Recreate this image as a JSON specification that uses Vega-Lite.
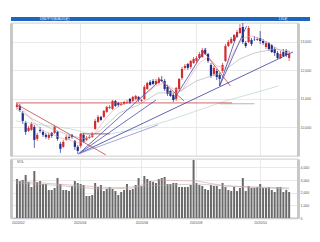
{
  "$schema": "https://vega.github.io/schema/vega-lite/v6.json",
  "padding": {"left": 10, "top": 17, "right": 0, "bottom": 0},
  "spacing": 1,
  "background": "white",
  "config": {
    "view": {"stroke": null},
    "axis": {"labelFont": "Liberation Sans", "labelFontSize": 3.5, "labelColor": "#555", "title": null},
    "text": {"font": "Noto Sans CJK JP"}
  },
  "datasets": {
    "bars": [
      {"i":0,"o":10720,"h":10860,"l":10650,"c":10790,"v":3080},
      {"i":1,"o":10755,"h":10825,"l":10545,"c":10615,"v":2920},
      {"i":2,"o":10510,"h":10580,"l":10125,"c":10230,"v":3000},
      {"i":3,"o":10160,"h":10230,"l":9740,"c":9845,"v":3400},
      {"i":4,"o":9880,"h":10055,"l":9845,"c":9985,"v":2840},
      {"i":5,"o":9915,"h":10195,"l":9880,"c":10125,"v":2450},
      {"i":6,"o":10020,"h":10090,"l":9285,"c":9565,"v":3710},
      {"i":7,"o":9600,"h":9810,"l":9530,"c":9740,"v":2840},
      {"i":8,"o":9915,"h":10020,"l":9810,"c":9880,"v":2920},
      {"i":9,"o":9845,"h":9915,"l":9670,"c":9740,"v":2685},
      {"i":10,"o":9740,"h":9810,"l":9600,"c":9670,"v":2685},
      {"i":11,"o":9635,"h":9810,"l":9565,"c":9740,"v":2210},
      {"i":12,"o":9810,"h":9845,"l":9635,"c":9705,"v":2210},
      {"i":13,"o":9810,"h":10090,"l":9775,"c":10020,"v":2370},
      {"i":14,"o":9845,"h":9880,"l":9530,"c":9600,"v":3160},
      {"i":15,"o":9425,"h":9495,"l":9110,"c":9250,"v":2685},
      {"i":16,"o":9320,"h":9565,"l":9285,"c":9495,"v":2210},
      {"i":17,"o":9565,"h":9740,"l":9530,"c":9670,"v":2210},
      {"i":18,"o":9670,"h":9740,"l":9565,"c":9635,"v":2135},
      {"i":19,"o":9740,"h":9775,"l":9600,"c":9670,"v":2530},
      {"i":20,"o":9530,"h":9565,"l":9215,"c":9320,"v":2920},
      {"i":21,"o":9320,"h":9390,"l":9075,"c":9180,"v":2765},
      {"i":22,"o":9355,"h":9810,"l":9285,"c":9775,"v":2685},
      {"i":23,"o":9740,"h":9810,"l":9460,"c":9495,"v":2605},
      {"i":24,"o":9565,"h":9705,"l":9530,"c":9635,"v":1740},
      {"i":25,"o":9635,"h":9740,"l":9600,"c":9670,"v":1740},
      {"i":26,"o":9670,"h":9845,"l":9635,"c":9775,"v":1815},
      {"i":27,"o":9950,"h":10300,"l":9915,"c":10230,"v":2765},
      {"i":28,"o":10195,"h":10440,"l":10160,"c":10370,"v":2450},
      {"i":29,"o":10370,"h":10405,"l":10230,"c":10265,"v":2605},
      {"i":30,"o":10370,"h":10615,"l":10335,"c":10580,"v":2135},
      {"i":31,"o":10545,"h":10755,"l":10510,"c":10720,"v":2290},
      {"i":32,"o":10685,"h":10790,"l":10650,"c":10720,"v":2450},
      {"i":33,"o":10650,"h":10965,"l":10615,"c":10930,"v":2290},
      {"i":34,"o":10930,"h":10965,"l":10720,"c":10755,"v":2135},
      {"i":35,"o":10860,"h":10895,"l":10720,"c":10790,"v":1815},
      {"i":36,"o":10790,"h":10895,"l":10755,"c":10825,"v":2055},
      {"i":37,"o":10825,"h":10930,"l":10790,"c":10895,"v":2210},
      {"i":38,"o":10860,"h":10965,"l":10825,"c":10895,"v":2685},
      {"i":39,"o":11000,"h":11035,"l":10825,"c":10860,"v":2210},
      {"i":40,"o":10930,"h":11105,"l":10895,"c":11070,"v":2290},
      {"i":41,"o":11000,"h":11140,"l":10965,"c":11105,"v":2605},
      {"i":42,"o":11070,"h":11105,"l":10895,"c":10965,"v":3160},
      {"i":43,"o":10930,"h":11000,"l":10895,"c":10965,"v":2530},
      {"i":44,"o":11000,"h":11490,"l":10965,"c":11420,"v":3320},
      {"i":45,"o":11350,"h":11595,"l":11315,"c":11560,"v":3080},
      {"i":46,"o":11595,"h":11665,"l":11455,"c":11490,"v":2920},
      {"i":47,"o":11630,"h":11700,"l":11490,"c":11525,"v":2840},
      {"i":48,"o":11525,"h":11700,"l":11490,"c":11630,"v":2765},
      {"i":49,"o":11560,"h":11770,"l":11525,"c":11700,"v":3080},
      {"i":50,"o":11665,"h":11805,"l":11595,"c":11630,"v":3160},
      {"i":51,"o":11630,"h":11700,"l":11280,"c":11350,"v":3240},
      {"i":52,"o":11420,"h":11490,"l":11105,"c":11175,"v":2685},
      {"i":53,"o":11280,"h":11315,"l":11070,"c":11105,"v":2685},
      {"i":54,"o":11140,"h":11210,"l":10895,"c":10965,"v":2765},
      {"i":55,"o":11000,"h":11420,"l":10930,"c":11385,"v":2765},
      {"i":56,"o":11350,"h":11735,"l":11315,"c":11700,"v":2450},
      {"i":57,"o":11735,"h":12120,"l":11665,"c":12050,"v":2450},
      {"i":58,"o":12085,"h":12225,"l":12015,"c":12155,"v":2450},
      {"i":59,"o":12225,"h":12260,"l":12015,"c":12085,"v":2450},
      {"i":60,"o":12120,"h":12365,"l":12050,"c":12330,"v":2605},
      {"i":61,"o":12260,"h":12470,"l":12225,"c":12400,"v":4580},
      {"i":62,"o":12330,"h":12505,"l":12260,"c":12435,"v":2765},
      {"i":63,"o":12435,"h":12645,"l":12400,"c":12575,"v":2605},
      {"i":64,"o":12470,"h":12785,"l":12435,"c":12715,"v":2530},
      {"i":65,"o":12715,"h":12785,"l":12540,"c":12575,"v":2290},
      {"i":66,"o":12575,"h":12610,"l":12260,"c":12330,"v":2210},
      {"i":67,"o":12190,"h":12260,"l":11735,"c":11805,"v":2605},
      {"i":68,"o":11875,"h":12155,"l":11805,"c":12085,"v":2530},
      {"i":69,"o":11980,"h":12050,"l":11665,"c":11770,"v":2530},
      {"i":70,"o":11840,"h":11910,"l":11455,"c":11700,"v":2290},
      {"i":71,"o":11980,"h":12260,"l":11910,"c":12190,"v":2765},
      {"i":72,"o":12330,"h":12925,"l":12295,"c":12855,"v":2450},
      {"i":73,"o":12855,"h":13065,"l":12820,"c":12995,"v":2210},
      {"i":74,"o":12960,"h":13170,"l":12925,"c":13100,"v":2135},
      {"i":75,"o":13030,"h":13275,"l":12995,"c":13240,"v":2450},
      {"i":76,"o":13170,"h":13415,"l":13135,"c":13345,"v":2135},
      {"i":77,"o":13310,"h":13625,"l":13275,"c":13485,"v":2370},
      {"i":78,"o":13520,"h":13660,"l":12925,"c":12995,"v":3160},
      {"i":79,"o":12960,"h":13030,"l":12785,"c":12855,"v":2135},
      {"i":80,"o":12995,"h":13555,"l":12960,"c":13485,"v":2530},
      {"i":81,"o":13065,"h":13135,"l":12855,"c":12925,"v":2370},
      {"i":82,"o":13100,"h":13205,"l":13030,"c":13090,"v":2370},
      {"i":83,"o":13065,"h":13170,"l":13030,"c":13100,"v":2450},
      {"i":84,"o":13135,"h":13380,"l":12925,"c":13030,"v":2685},
      {"i":85,"o":13030,"h":13100,"l":12890,"c":12960,"v":2370},
      {"i":86,"o":12820,"h":13030,"l":12750,"c":12960,"v":2370},
      {"i":87,"o":12960,"h":12995,"l":12680,"c":12750,"v":2450},
      {"i":88,"o":12890,"h":12925,"l":12610,"c":12645,"v":2210},
      {"i":89,"o":12750,"h":12820,"l":12505,"c":12610,"v":2055},
      {"i":90,"o":12610,"h":12680,"l":12400,"c":12435,"v":2450},
      {"i":91,"o":12435,"h":12680,"l":12400,"c":12575,"v":2450},
      {"i":92,"o":12645,"h":12750,"l":12470,"c":12505,"v":2055},
      {"i":93,"o":12680,"h":12750,"l":12470,"c":12540,"v":2210},
      {"i":94,"o":12435,"h":12680,"l":12330,"c":12575,"v":2055}
    ],
    "lines": [
      {"id":"t1","kind":"red","i":-0.33,"p":10860},{"id":"t1","kind":"red","i":74.3,"p":10860},
      {"id":"t2","kind":"gray","i":70,"p":10830},{"id":"t2","kind":"gray","i":82,"p":10830},
      {"id":"t3","kind":"red","i":22,"p":9775},{"id":"t3","kind":"red","i":32,"p":9775},
      {"id":"t4","kind":"red","i":-0.33,"p":10825},{"id":"t4","kind":"red","i":30.7,"p":9040},
      {"id":"t5","kind":"red","i":48.7,"p":11735},{"id":"t5","kind":"red","i":57.7,"p":10930},
      {"id":"t6","kind":"red","i":64.3,"p":12680},{"id":"t6","kind":"red","i":73.7,"p":11455},
      {"id":"t7","kind":"thick","i":21.3,"p":9075},{"id":"t7","kind":"thick","i":95.33,"p":12645},
      {"id":"t8","kind":"navy","i":21.3,"p":9075},{"id":"t8","kind":"navy","i":50,"p":11700},
      {"id":"t9","kind":"navy","i":21.3,"p":9075},{"id":"t9","kind":"navy","i":48,"p":10960},
      {"id":"t10","kind":"navy","i":54.3,"p":10995},{"id":"t10","kind":"navy","i":65.3,"p":12785},
      {"id":"t11","kind":"navy","i":70,"p":11455},{"id":"t11","kind":"navy","i":76,"p":13275},
      {"id":"t12","kind":"navy","i":70,"p":11455},{"id":"t12","kind":"navy","i":79.3,"p":13555},
      {"id":"t13","kind":"light","i":21.3,"p":9075},{"id":"t13","kind":"light","i":48.7,"p":10090}
    ],
    "ma": [
      {"id":"m1","i":0,"p":10790},{"id":"m1","i":3,"p":10510},{"id":"m1","i":6,"p":10160},{"id":"m1","i":9,"p":9880},
      {"id":"m1","i":12,"p":9775},{"id":"m1","i":15,"p":9635},{"id":"m1","i":18,"p":9565},{"id":"m1","i":21,"p":9460},
      {"id":"m1","i":24,"p":9530},{"id":"m1","i":27,"p":9810},{"id":"m1","i":30,"p":10230},{"id":"m1","i":33,"p":10580},
      {"id":"m1","i":36,"p":10790},{"id":"m1","i":39,"p":10895},{"id":"m1","i":42,"p":10965},{"id":"m1","i":45,"p":11210},
      {"id":"m1","i":48,"p":11455},{"id":"m1","i":51,"p":11560},{"id":"m1","i":54,"p":11350},{"id":"m1","i":57,"p":11280},
      {"id":"m1","i":60,"p":11805},{"id":"m1","i":63,"p":12260},{"id":"m1","i":66,"p":12470},{"id":"m1","i":69,"p":12155},
      {"id":"m1","i":72,"p":12085},{"id":"m1","i":75,"p":12680},{"id":"m1","i":78,"p":13135},{"id":"m1","i":81,"p":13205},
      {"id":"m1","i":84,"p":13100},{"id":"m1","i":87,"p":12960},{"id":"m1","i":90,"p":12750},{"id":"m1","i":94,"p":12575},
      {"id":"m2","i":-0.33,"p":10650},{"id":"m2","i":5.33,"p":10300},{"id":"m2","i":12,"p":9950},{"id":"m2","i":18.67,"p":9705},
      {"id":"m2","i":23.67,"p":9600},{"id":"m2","i":28.67,"p":9880},{"id":"m2","i":35.33,"p":10510},{"id":"m2","i":42,"p":10790},
      {"id":"m2","i":48.67,"p":11210},{"id":"m2","i":55.33,"p":11210},{"id":"m2","i":62,"p":11630},{"id":"m2","i":70.33,"p":11910},
      {"id":"m2","i":77,"p":12400},{"id":"m2","i":82,"p":12610},{"id":"m2","i":88.67,"p":12750},{"id":"m2","i":94,"p":12680},
      {"id":"m3","i":-0.33,"p":10230},{"id":"m3","i":8.67,"p":10090},{"id":"m3","i":18.67,"p":9950},{"id":"m3","i":25.33,"p":9775},
      {"id":"m3","i":32,"p":9775},{"id":"m3","i":42,"p":9950},{"id":"m3","i":52,"p":10230},{"id":"m3","i":62,"p":10580},
      {"id":"m3","i":72,"p":10930},{"id":"m3","i":82,"p":11210},{"id":"m3","i":90.33,"p":11455}
    ],
    "vma": [
      {"id":"v1","i":-0.33,"v":2920},{"id":"v1","i":8.67,"v":2765},{"id":"v1","i":18.67,"v":2605},{"id":"v1","i":28.67,"v":2450},
      {"id":"v1","i":38.67,"v":2290},{"id":"v1","i":48.67,"v":3000},{"id":"v1","i":62,"v":2920},{"id":"v1","i":72,"v":2530},
      {"id":"v1","i":82,"v":2450},{"id":"v1","i":94,"v":2370},
      {"id":"v2","i":-0.33,"v":2765},{"id":"v2","i":12,"v":2605},{"id":"v2","i":28.67,"v":2290},{"id":"v2","i":45.33,"v":2530},
      {"id":"v2","i":62,"v":2685},{"id":"v2","i":78.67,"v":2450},{"id":"v2","i":94,"v":2290}
    ]
  },
  "vconcat": [
    {
      "width": 299,
      "height": 4,
      "view": {"fill": "#1d66c0", "stroke": null},
      "data": {"values": [{"label": "日経平均株価(日足)", "tag": "1日足"}]},
      "layer": [
        {
          "mark": {"type": "text", "fontSize": 3.5, "color": "#e8f0ff", "align": "left", "baseline": "middle"},
          "encoding": {
            "x": {"datum": 0.095, "type": "quantitative", "scale": {"domain": [0, 1]}, "axis": null},
            "y": {"datum": 0.5, "type": "quantitative", "scale": {"domain": [0, 1]}, "axis": null},
            "text": {"field": "label"}
          }
        },
        {
          "mark": {"type": "text", "fontSize": 3.5, "color": "#e8f0ff", "align": "left", "baseline": "middle"},
          "encoding": {
            "x": {"datum": 0.895, "type": "quantitative", "axis": null},
            "y": {"datum": 0.5, "type": "quantitative", "axis": null},
            "text": {"field": "tag"}
          }
        }
      ]
    },
    {
      "width": 287,
      "height": 133,
      "view": {"stroke": "#aaa", "strokeWidth": 0.6},
      "resolve": {"axis": {"y": "independent"}, "scale": {"color": "independent", "strokeWidth": "independent"}},
      "layer": [
        {
          "data": {"name": "bars"},
          "mark": {"type": "rule", "strokeWidth": 0.7},
          "encoding": {
            "x": {"field": "i", "type": "quantitative", "scale": {"domain": [-0.33, 95.33], "nice": false, "zero": false},
                  "axis": {"labels": false, "ticks": false, "domain": false, "grid": true, "values": [21.67, 43, 61.67, 84], "gridColor": "#dcdcdc", "gridWidth": 0.6}},
            "y": {"field": "l", "type": "quantitative", "scale": {"domain": [9000, 13660], "nice": false, "zero": false},
                  "axis": {"orient": "left", "labels": false, "ticks": false, "grid": false, "domainColor": "#c8c8c8", "domainWidth": 3}},
            "y2": {"field": "h"},
            "color": {"condition": {"test": "datum.c >= datum.o", "value": "#d22b2b"}, "value": "#1e2b8a"}
          }
        },
        {
          "data": {"name": "bars"},
          "mark": {"type": "bar", "size": 2.2},
          "encoding": {
            "x": {"field": "i", "type": "quantitative"},
            "y": {"field": "o", "type": "quantitative",
                  "axis": {"orient": "right", "values": [10000, 11000, 12000, 13000], "grid": true, "gridColor": "#dcdcdc", "gridWidth": 0.6, "ticks": false, "domainColor": "#c8c8c8", "domainWidth": 3, "labelPadding": 2}},
            "y2": {"field": "c"},
            "color": {"condition": {"test": "datum.c >= datum.o", "value": "#d22b2b"}, "value": "#1e2b8a"}
          }
        },
        {
          "data": {"name": "ma"},
          "mark": {"type": "line", "strokeWidth": 0.6, "clip": true},
          "encoding": {
            "x": {"field": "i", "type": "quantitative"},
            "y": {"field": "p", "type": "quantitative", "axis": null},
            "detail": {"field": "id"},
            "color": {"field": "id", "type": "nominal", "scale": {"domain": ["m1", "m2", "m3"], "range": ["#e8a0a0", "#a8a8a8", "#a8d0c8"]}, "legend": null}
          }
        },
        {
          "data": {"name": "lines"},
          "mark": {"type": "line", "clip": true},
          "encoding": {
            "x": {"field": "i", "type": "quantitative"},
            "y": {"field": "p", "type": "quantitative", "axis": null},
            "detail": {"field": "id"},
            "color": {"field": "kind", "type": "nominal", "scale": {"domain": ["red", "gray", "thick", "navy", "light"], "range": ["#c84040", "#a0a0a0", "#3a3aa0", "#4a4ab0", "#9090d0"]}, "legend": null},
            "strokeWidth": {"field": "kind", "type": "nominal", "scale": {"domain": ["red", "gray", "thick", "navy", "light"], "range": [0.8, 0.8, 1.6, 0.8, 0.8]}, "legend": null}
          }
        }
      ]
    },
    {
      "width": 287,
      "height": 59,
      "view": {"stroke": "#aaa", "strokeWidth": 0.6},
      "resolve": {"axis": {"y": "independent"}},
      "layer": [
        {
          "data": {"name": "bars"},
          "mark": {"type": "bar", "size": 2, "color": "#6a6a6a"},
          "encoding": {
            "x": {"field": "i", "type": "quantitative", "scale": {"domain": [-0.33, 95.33], "nice": false, "zero": false},
                  "axis": {"values": [0.33, 21.67, 43, 61.67, 84], "labelExpr": "datum.value < 5 ? '2020/02' : datum.value < 30 ? '2020/04' : datum.value < 50 ? '2020/06' : datum.value < 70 ? '2020/08' : '2020/10'",
                           "grid": true, "gridColor": "#dcdcdc", "gridWidth": 0.6, "gridOpacity": {"condition": {"test": "datum.value < 5", "value": 0}, "value": 1},
                           "ticks": false, "domainColor": "#c8c8c8", "domainWidth": 1.5, "labelPadding": 2}},
            "y": {"field": "v", "type": "quantitative", "scale": {"domain": [0, 4660], "nice": false},
                  "axis": {"orient": "right", "values": [0, 1000, 2000, 3000, 4000], "grid": true, "gridColor": "#dcdcdc", "gridWidth": 0.6, "ticks": false, "domainColor": "#c8c8c8", "domainWidth": 3, "labelPadding": 2}}
          }
        },
        {
          "data": {"name": "vma"},
          "mark": {"type": "line", "strokeWidth": 0.6},
          "encoding": {
            "x": {"field": "i", "type": "quantitative"},
            "y": {"field": "v", "type": "quantitative", "axis": {"orient": "left", "labels": false, "ticks": false, "grid": false, "domainColor": "#c8c8c8", "domainWidth": 3}},
            "detail": {"field": "id"},
            "color": {"field": "id", "type": "nominal", "scale": {"domain": ["v1", "v2"], "range": ["#d8a0a0", "#b0b0b0"]}, "legend": null}
          }
        },
        {
          "data": {"values": [{"t": "VOL"}]},
          "mark": {"type": "text", "fontSize": 3.5, "color": "#444", "align": "left", "baseline": "top", "font": "Liberation Sans"},
          "encoding": {
            "x": {"datum": 0, "type": "quantitative"},
            "y": {"datum": 4620, "type": "quantitative", "axis": null},
            "text": {"field": "t"}
          }
        }
      ]
    }
  ]
}
